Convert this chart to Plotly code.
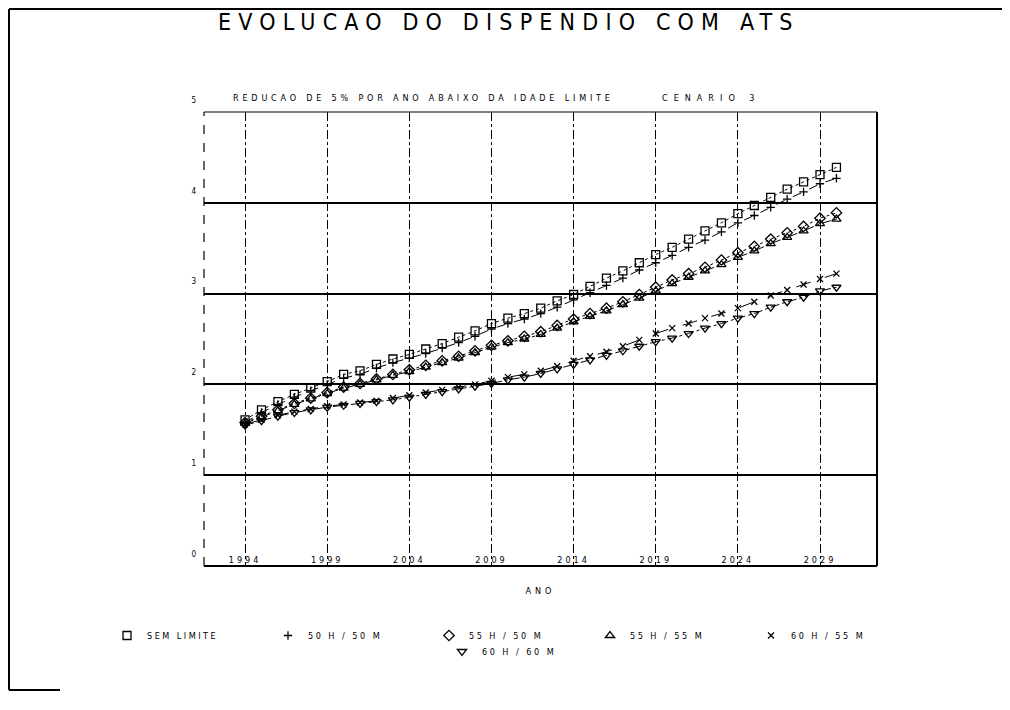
import plotly.graph_objects as go

years = list(range(1994, 2031))

sem_limite = [1.61, 1.72, 1.81, 1.89, 1.96, 2.03, 2.11, 2.15, 2.22, 2.28, 2.33, 2.39, 2.45,
              2.52, 2.59, 2.67, 2.73, 2.78, 2.84, 2.92, 2.99, 3.08, 3.17, 3.25, 3.34, 3.43,
              3.51, 3.60, 3.69, 3.78, 3.88, 3.97, 4.06, 4.15, 4.23, 4.31, 4.39]
h50_m50 = [1.58, 1.69, 1.78, 1.86, 1.93, 2.00, 2.07, 2.11, 2.18, 2.24, 2.29, 2.34, 2.40,
           2.46, 2.53, 2.61, 2.67, 2.72, 2.78, 2.85, 2.93, 3.01, 3.09, 3.17, 3.26, 3.34,
           3.42, 3.51, 3.59, 3.68, 3.78, 3.86, 3.95, 4.04, 4.12, 4.21, 4.27]
h55_m50 = [1.58, 1.65, 1.72, 1.79, 1.85, 1.91, 1.97, 2.01, 2.06, 2.11, 2.16, 2.21, 2.26,
           2.31, 2.37, 2.43, 2.48, 2.53, 2.58, 2.65, 2.72, 2.78, 2.84, 2.91, 2.99, 3.07,
           3.15, 3.22, 3.29, 3.37, 3.45, 3.52, 3.60, 3.67, 3.74, 3.83, 3.89]
h55_m55 = [1.57, 1.64, 1.71, 1.78, 1.84, 1.90, 1.96, 2.00, 2.05, 2.10, 2.14, 2.19, 2.24,
           2.29, 2.35, 2.41, 2.46, 2.50, 2.55, 2.62, 2.69, 2.75, 2.81, 2.88, 2.95, 3.03,
           3.11, 3.18, 3.25, 3.32, 3.40, 3.47, 3.55, 3.62, 3.69, 3.77, 3.82]
h60_m55 = [1.56, 1.61, 1.66, 1.70, 1.73, 1.76, 1.78, 1.80, 1.82, 1.85, 1.88, 1.91, 1.94,
           1.97, 2.00, 2.04, 2.08, 2.11, 2.15, 2.20, 2.26, 2.31, 2.36, 2.42, 2.49, 2.56,
           2.62, 2.67, 2.73, 2.78, 2.84, 2.91, 2.98, 3.04, 3.10, 3.16, 3.22]
h60_m60 = [1.55, 1.60, 1.65, 1.69, 1.72, 1.75, 1.77, 1.79, 1.81, 1.83, 1.86, 1.89, 1.92,
           1.95, 1.98, 2.01, 2.05, 2.08, 2.12, 2.17, 2.22, 2.27, 2.32, 2.37, 2.42, 2.47,
           2.51, 2.56, 2.62, 2.67, 2.73, 2.78, 2.85, 2.91, 2.96, 3.03, 3.07]

series_names = ["SEM LIMITE", "50 H / 50 M", "55 H / 50 M", "55 H / 55 M", "60 H / 55 M", "60 H / 60 M"]
x_tick_vals = [1994, 1999, 2004, 2009, 2014, 2019, 2024, 2029]
y_tick_vals = [0, 1, 2, 3, 4, 5]

FONT = "Liberation Sans Narrow, DejaVu Sans Condensed, sans-serif"


def sp(text, ls):
    return f'<span style="letter-spacing:{ls}px">{text}</span>'


series = [
    (series_names[0], sem_limite, "square-open", 8, "dot", "legend"),
    (series_names[1], h50_m50, "cross-thin-open", 6, "dash", "legend"),
    (series_names[2], h55_m50, "diamond-open", 8, "dot", "legend"),
    (series_names[3], h55_m55, "triangle-up-open", 8, "dashdot", "legend"),
    (series_names[4], h60_m55, "x-thin-open", 6, "longdash", "legend"),
    (series_names[5], h60_m60, "triangle-down-open", 8, "dashdot", "legend2"),
]

fig = go.Figure()
for name, vals, sym, size, dash, lg in series:
    fig.add_trace(go.Scatter(x=years, y=vals, mode="lines", showlegend=False,
                             line=dict(color="black", width=1, dash=dash), hoverinfo="skip"))
for name, vals, sym, size, dash, lg in series:
    fig.add_trace(go.Scatter(x=years, y=vals, mode="markers", name=sp(name, 2.5), legend=lg,
                             marker=dict(symbol=sym, size=size, color="black",
                                         line=dict(width=1.3, color="black"))))

# page is drawn with an 8px body margin: work in screen pixels, convert to figure pixels
OFF = 8
W, H = 1002, 702
L, R, T, B = 204 - OFF, 877 - OFF, 112 - OFF, 566 - OFF


def px(x):
    return (x - OFF - L) / (R - L)


def py(y):
    return (B - (y - OFF)) / (B - T)


fig.update_layout(
    width=W, height=H,
    margin=dict(l=L, r=W - R, t=T, b=H - B),
    paper_bgcolor="white", plot_bgcolor="white",
    font=dict(family=FONT, color="black", size=9),
    xaxis=dict(range=[1991.5, 2032.47], tickvals=x_tick_vals,
               ticktext=[sp(str(v), 3) for v in x_tick_vals],
               anchor="free", position=py(553),
               tickfont=dict(size=9, color="black"), ticklabelstandoff=0,
               showgrid=True, gridcolor="black", gridwidth=1, griddash="dashdot",
               showline=False, ticks="", zeroline=False,
               title=dict(text=sp("ANO", 4), font=dict(size=9), standoff=23)),
    yaxis=dict(range=[0, 5], tickvals=y_tick_vals, ticktext=[str(v) for v in y_tick_vals],
               anchor="free", position=0,
               tickfont=dict(size=8, color="black"), ticklabelshift=-12, ticklabelstandoff=8,
               showgrid=True, gridcolor="black", gridwidth=1.8,
               showline=False, ticks="", zeroline=False),
    legend=dict(orientation="h", x=px(107), y=py(621), xanchor="left", yanchor="top",
                entrywidth=116, entrywidthmode="pixels", itemwidth=30,
                font=dict(size=9), bgcolor="rgba(0,0,0,0)"),
    legend2=dict(orientation="h", x=px(442), y=py(637), xanchor="left", yanchor="top",
                 itemwidth=30, font=dict(size=9), bgcolor="rgba(0,0,0,0)"),
    showlegend=True,
)

# plot frame: solid bottom, dashed left edge, solid right edge, thin top edge
fig.add_shape(type="line", xref="paper", yref="paper", x0=0, x1=1, y0=0, y1=0,
              line=dict(color="black", width=2))
fig.add_shape(type="line", xref="paper", yref="paper", x0=0, x1=0, y0=0, y1=1,
              line=dict(color="black", width=1.2, dash="dash"))
fig.add_shape(type="line", xref="paper", yref="paper", x0=1, x1=1, y0=0, y1=1,
              line=dict(color="black", width=2))
fig.add_shape(type="line", xref="paper", yref="paper", x0=0, x1=1, y0=1, y1=1,
              line=dict(color="black", width=1))
# page border
for (x0, y0, x1, y1) in [(9, 9, 1005, 9), (9, 9, 9, 690), (1005, 9, 1005, 690), (9, 690, 60, 690)]:
    fig.add_shape(type="line", xref="paper", yref="paper",
                  x0=px(x0), x1=px(x1), y0=py(y0), y1=py(y1),
                  line=dict(color="black", width=2))

fig.add_annotation(xref="paper", yref="paper", x=px(509), y=py(22), showarrow=False,
                   xanchor="center", yanchor="middle",
                   text=sp("EVOLUCAO DO DISPENDIO COM ATS", 7.2), font=dict(size=23))
fig.add_annotation(xref="paper", yref="paper", x=px(231), y=py(98), showarrow=False,
                   xanchor="left", yanchor="middle",
                   text=sp("REDUCAO DE 5% POR ANO ABAIXO DA IDADE LIMITE", 3.8), font=dict(size=9))
fig.add_annotation(xref="paper", yref="paper", x=px(660), y=py(98), showarrow=False,
                   xanchor="left", yanchor="middle",
                   text=sp("CENARIO 3", 6), font=dict(size=9))

fig.write_html("out.html")
